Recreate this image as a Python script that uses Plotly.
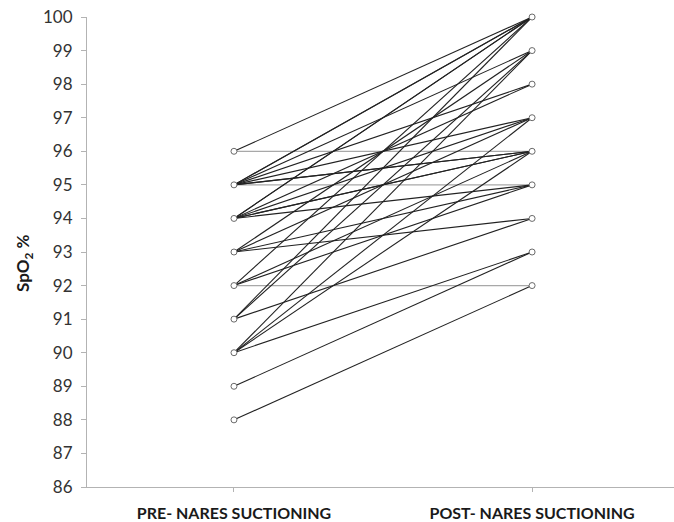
import plotly.graph_objects as go

# Paired SpO2 readings (%) per infant: before and after nares suctioning
pre_spo2 = [96, 96,
            95, 95, 95, 95, 95, 95, 95, 95,
            94, 94, 94, 94, 94, 94, 94,
            93, 93, 93, 93,
            92, 92, 92, 92,
            91, 91, 91,
            90, 90, 90, 90,
            89, 88]
post_spo2 = [96, 100,
             95, 96, 96, 97, 98, 99, 100, 100,
             95, 96, 96, 97, 98, 100, 100,
             94, 95, 97, 99,
             92, 95, 96, 100,
             94, 99, 100,
             93, 96, 97, 99,
             93, 92]
categories = ["PRE- NARES SUCTIONING", "POST- NARES SUCTIONING"]
y_ticks = list(range(86, 101))

FONT = "Lato, 'Open Sans', sans-serif"
TXT = "#333333"
AX = "#b3b3b3"

fig = go.Figure()

# connecting lines: changed values in dark, unchanged values in light grey
xs_chg, ys_chg, xs_eq, ys_eq = [], [], [], []
for a, b in zip(pre_spo2, post_spo2):
    if a == b:
        xs_eq += [0, 1, None]
        ys_eq += [a, b, None]
    else:
        xs_chg += [0, 1, None]
        ys_chg += [a, b, None]

fig.add_trace(go.Scatter(x=xs_eq, y=ys_eq, mode="lines",
                         line=dict(color="#a8a8a8", width=1.3),
                         hoverinfo="skip", cliponaxis=False))
fig.add_trace(go.Scatter(x=xs_chg, y=ys_chg, mode="lines",
                         line=dict(color="#222222", width=1.1),
                         hoverinfo="skip", cliponaxis=False))

# open circle markers at each distinct reading
pts = sorted(set([(0, v) for v in pre_spo2] + [(1, v) for v in post_spo2]))
fig.add_trace(go.Scatter(x=[p[0] for p in pts], y=[p[1] for p in pts],
                         mode="markers",
                         marker=dict(symbol="circle", size=6, color="white",
                                     line=dict(color="#6a6a6a", width=1)),
                         cliponaxis=False))

fig.update_layout(
    width=674, height=522,
    margin=dict(l=87, r=0, t=17, b=35),
    paper_bgcolor="white", plot_bgcolor="white",
    showlegend=False,
    font=dict(family=FONT, color=TXT),
)
fig.update_xaxes(
    range=[-0.493, 1.476],
    tickvals=[0, 1], ticktext=[f"<b>{c}</b>" for c in categories],
    tickfont=dict(family=FONT, size=16, color="#1a1a1a"),
    showgrid=False, zeroline=False,
    showline=True, linecolor=AX, linewidth=1,
    ticks="outside", ticklen=4, tickcolor=AX,
    ticklabelstandoff=8,
)
fig.update_yaxes(
    range=[86, 100], tickvals=y_ticks,
    tickfont=dict(family=FONT, size=17, color=TXT),
    showgrid=False, zeroline=False,
    showline=True, linecolor=AX, linewidth=1,
    ticks="outside", ticklen=5, tickcolor=AX,
    ticklabelstandoff=5,
)
fig.add_annotation(text="<b>SpO<sub>2</sub> %</b>", textangle=-90,
                   xref="paper", yref="paper", x=-0.107, y=0.477,
                   xanchor="center", yanchor="middle", showarrow=False,
                   font=dict(family=FONT, size=17, color="#1a1a1a"))

fig.write_html("out.html")
